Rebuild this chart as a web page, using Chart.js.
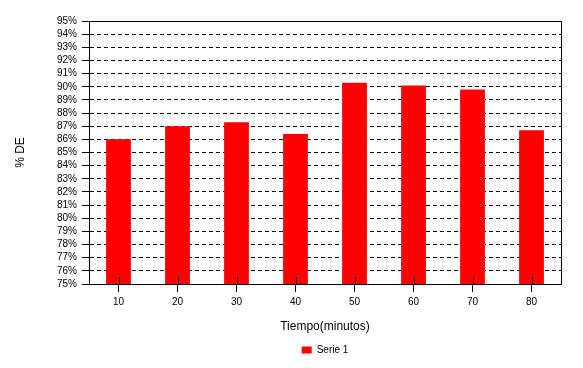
<!DOCTYPE html>
<html>
<head>
<meta charset="utf-8">
<script src="https://cdn.jsdelivr.net/npm/chart.js@4/dist/chart.umd.min.js"></script>
<style>
  html, body { margin: 0; padding: 0; background: #fff; }
  #wrap { width: 583px; height: 368px; }
</style>
</head>
<body>
<div id="wrap"><canvas id="chart"></canvas></div>
<script>
// categories (minutes) and values (% DE)
const categories = ['10', '20', '30', '40', '50', '60', '70', '80'];
const serie1 = [86.0, 87.0, 87.3, 86.4, 90.3, 90.1, 89.8, 86.7];
const yMin = 75;
const yMax = 95;

const FONT = 'Arial, "Liberation Sans", sans-serif';

// inner half of the x tick marks + top/right frame
const framePlugin = {
    id: 'frame',
    afterDatasetsDraw(chart) {
        const ctx = chart.ctx;
        const a = chart.chartArea;
        const x = chart.scales.x;
        ctx.save();
        ctx.strokeStyle = '#000';
        ctx.lineWidth = 1;
        ctx.beginPath();
        categories.forEach(function (c, i) {
            const px = Math.round(x.getPixelForValue(i)) + 0.5;
            ctx.moveTo(px, a.bottom - 7);
            ctx.lineTo(px, a.bottom);
        });
        ctx.moveTo(a.left, Math.round(a.top) + 0.5);
        ctx.lineTo(Math.round(a.right) + 0.5, Math.round(a.top) + 0.5);
        ctx.lineTo(Math.round(a.right) + 0.5, a.bottom);
        ctx.stroke();
        ctx.restore();
    }
};

new Chart(document.getElementById('chart'), {
    type: 'bar',
    data: {
        labels: categories,
        datasets: [{
            label: 'Serie 1',
            data: serie1,
            backgroundColor: '#ff0000',
            borderWidth: 0,
            barPercentage: 0.42,
            categoryPercentage: 1.0
        }]
    },
    options: {
        responsive: true,
        maintainAspectRatio: false,
        animation: false,
        layout: { padding: { top: 21, right: 22, left: 0, bottom: 3 } },
        plugins: {
            legend: {
                position: 'bottom',
                fullSize: false,
                labels: {
                    color: '#000',
                    font: { family: FONT, size: 10 },
                    boxWidth: 10,
                    boxHeight: 7,
                    padding: 10
                }
            },
            tooltip: { enabled: false }
        },
        scales: {
            x: {
                afterFit: function (scale) {
                    scale.height = 51;
                },
                grid: {
                    display: true,
                    drawOnChartArea: false,
                    drawTicks: true,
                    tickLength: 8,
                    offset: false,
                    color: '#000'
                },
                border: { display: true, color: '#000', width: 1 },
                ticks: {
                    color: '#000',
                    font: { family: FONT, size: 10 },
                    padding: 4,
                    maxRotation: 0
                },
                title: {
                    display: true,
                    text: 'Tiempo(minutos)',
                    color: '#000',
                    font: { family: FONT, size: 12 },
                    padding: { top: 0, bottom: 1 }
                }
            },
            y: {
                min: yMin,
                max: yMax,
                afterFit: function (scale) {
                    scale.width = 89;
                },
                grid: {
                    color: '#000',
                    lineWidth: 1,
                    drawTicks: true,
                    tickLength: 7,
                    tickColor: '#000',
                    tickBorderDash: []
                },
                border: {
                    display: true,
                    color: '#000',
                    width: 1,
                    dash: function (ctx) {
                        return (ctx.tick && ctx.tick.value === yMax) ? [] : [4, 3];
                    }
                },
                ticks: {
                    stepSize: 1,
                    autoSkip: false,
                    color: '#000',
                    font: { family: FONT, size: 10 },
                    padding: 5,
                    callback: function (v) { return v + '%'; }
                },
                title: {
                    display: true,
                    text: '% DE',
                    color: '#000',
                    font: { family: FONT, size: 12 },
                    padding: { top: 13, bottom: 0 }
                }
            }
        }
    },
    plugins: [framePlugin]
});
</script>
</body>
</html>
